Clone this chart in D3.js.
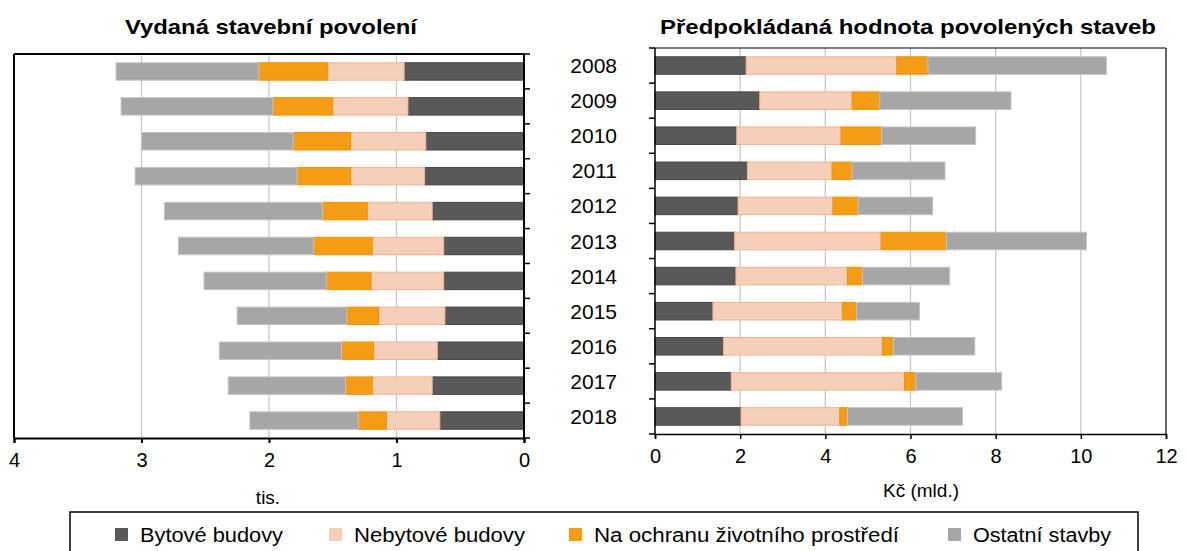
<!DOCTYPE html>
<html><head><meta charset="utf-8">
<script src="https://cdn.jsdelivr.net/npm/d3@7"></script>
<style>
html,body{margin:0;padding:0;background:#fff;}
text{font-family:"Liberation Sans",Arial,sans-serif;fill:#000;}
</style></head>
<body><svg id="c" width="1186" height="551"></svg>
<script>
const years = ["2008","2009","2010","2011","2012","2013","2014","2015","2016","2017","2018"];
const seriesNames = ["Bytové budovy","Nebytové budovy","Na ochranu životního prostředí","Ostatní stavby"];
// Vydaná stavební povolení (tis.)
const permitsBytove   = [0.94,0.91,0.77,0.78,0.72,0.63,0.63,0.62,0.68,0.72,0.66];
const permitsNebytove = [0.60,0.59,0.59,0.58,0.51,0.56,0.57,0.52,0.50,0.47,0.42];
const permitsOchrana  = [0.54,0.47,0.45,0.42,0.35,0.46,0.35,0.25,0.25,0.21,0.22];
const permitsOstatni  = [1.12,1.19,1.19,1.27,1.24,1.06,0.96,0.86,0.96,0.92,0.85];
// Předpokládaná hodnota povolených staveb (mld. Kč)
const valueBytove   = [2.14,2.46,1.92,2.17,1.95,1.87,1.90,1.36,1.61,1.79,2.02];
const valueNebytove = [3.54,2.17,2.45,1.99,2.23,3.44,2.62,3.04,3.73,4.07,2.32];
const valueOchrana  = [0.73,0.65,0.95,0.47,0.59,1.53,0.35,0.33,0.26,0.26,0.18];
const valueOstatni  = [4.19,3.08,2.21,2.18,1.75,3.29,2.05,1.48,1.91,2.02,2.70];
const leftTicks = [0,1,2,3,4];
const rightTicks = [0,2,4,6,8,10,12];

const fills   = ["#595959","#f5cfb8","#f59c17","#a6a6a6"];
const strokes = ["#454545","#f0b493","#f39200","#c4c4c4"];

const svg = d3.select("#c");
const keys = ["a","b","c","d"];
function rows(arrs){ return years.map((y,i)=>({year:y,a:arrs[0][i],b:arrs[1][i],c:arrs[2][i],d:arrs[3][i]})); }
const stack = d3.stack().keys(keys);

function drawChart(cfg){
  const g = svg.append("g");
  const x = d3.scaleLinear().domain(cfg.domain).range(cfg.xr);
  const y = d3.scaleBand().domain(years).range([cfg.top,cfg.bottom]).paddingInner(0.5).paddingOuter(0.25);
  // gridlines
  g.append("g").selectAll("line").data(cfg.ticks.filter(t=>t!==0 && t!==cfg.frameVal)).join("line")
    .attr("x1",d=>x(d)).attr("x2",d=>x(d)).attr("y1",cfg.top).attr("y2",cfg.bottom)
    .attr("stroke","#c8c8c8").attr("stroke-width",1.3);
  // bars
  const st = stack(rows(cfg.data));
  st.forEach((layer,li)=>{
    g.append("g").selectAll("rect").data(layer).join("rect")
      .attr("x",d=>Math.min(x(d[0]),x(d[1])))
      .attr("width",d=>Math.abs(x(d[1])-x(d[0])))
      .attr("y",d=>y(d.data.year)).attr("height",y.bandwidth())
      .attr("fill",fills[li]).attr("stroke",strokes[li]).attr("stroke-width",1);
  });
  // frame top and far side
  g.append("line").attr("x1",cfg.xr[0]).attr("x2",cfg.xr[1]).attr("y1",cfg.top).attr("y2",cfg.top)
    .attr("stroke","#000").attr("stroke-width",cfg.frameW);
  g.append("line").attr("x1",x(cfg.frameVal)).attr("x2",x(cfg.frameVal)).attr("y1",cfg.top).attr("y2",cfg.bottom)
    .attr("stroke","#000").attr("stroke-width",cfg.frameW);
  // bottom axis
  const xa = g.append("g").attr("transform",`translate(0,${cfg.bottom})`)
    .call(d3.axisBottom(x).tickValues(cfg.ticks).tickSize(5).tickPadding(10).tickFormat(d3.format("d")));
  xa.select(".domain").attr("stroke","#000").attr("stroke-width",cfg.axisW);
  xa.selectAll(".tick line").attr("stroke","#000").attr("stroke-width",cfg.axisW);
  xa.selectAll("text").attr("font-size","20px").attr("font-family","Liberation Sans, Arial, sans-serif").attr("fill","#000");
  // category axis line with boundary ticks
  const ax0 = x(0);
  g.append("line").attr("x1",ax0).attr("x2",ax0).attr("y1",cfg.top).attr("y2",cfg.bottom)
    .attr("stroke","#000").attr("stroke-width",cfg.axisW);
  const bounds = d3.range(years.length+1).map(i=>cfg.top+(cfg.bottom-cfg.top)*i/years.length);
  g.append("g").selectAll("line").data(bounds).join("line")
    .attr("x1",ax0).attr("x2",ax0+cfg.tickDir*6).attr("y1",d=>d).attr("y2",d=>d)
    .attr("stroke","#000").attr("stroke-width",1.5);
  if(cfg.labels){
    g.append("g").selectAll("text").data(years).join("text")
      .attr("x",cfg.labelX).attr("y",d=>y(d)+y.bandwidth()/2).attr("dy","0.36em")
      .attr("text-anchor","end").attr("font-size","21px").text(d=>d);
  }
  // title & axis title
  g.append("text").attr("x",cfg.titleX).attr("y",34).attr("text-anchor","middle")
    .attr("font-size","21px").attr("font-weight","bold")
    .attr("textLength",cfg.titleW).attr("lengthAdjust","spacingAndGlyphs").text(cfg.title);
  g.append("text").attr("x",cfg.axisTitleX).attr("y",cfg.axisTitleY).attr("text-anchor","middle")
    .attr("font-size","19px").text(cfg.axisTitle);
}

drawChart({data:[permitsBytove,permitsNebytove,permitsOchrana,permitsOstatni],
  domain:[4,0], xr:[14,524], top:54, bottom:438, ticks:leftTicks, frameVal:4, frameW:2, axisW:2,
  tickDir:1, labels:false, title:"Vydaná stavební povolení", titleX:271, titleW:292,
  axisTitle:"tis.", axisTitleX:268, axisTitleY:504});
drawChart({data:[valueBytove,valueNebytove,valueOchrana,valueOstatni],
  domain:[0,12], xr:[655,1166], top:48, bottom:434, ticks:rightTicks, frameVal:12, frameW:1.2, axisW:1.5,
  tickDir:-1, labels:true, labelX:617, title:"Předpokládaná hodnota povolených staveb", titleX:908, titleW:496,
  axisTitle:"Kč (mld.)", axisTitleX:921, axisTitleY:497});

// legend
const lg = svg.append("g");
lg.append("rect").attr("x",70).attr("y",512).attr("width",1068).attr("height",45)
  .attr("fill","none").attr("stroke","#000").attr("stroke-width",1.5);
const legX = [115,329,569,948];
const legW = [143,171,305,138];
seriesNames.forEach((n,i)=>{
  lg.append("rect").attr("x",legX[i]).attr("y",528).attr("width",13).attr("height",13).attr("fill",fills[i]);
  lg.append("text").attr("x",legX[i]+25).attr("y",535).attr("dy","0.36em").attr("font-size","20px")
    .attr("textLength",legW[i]).attr("lengthAdjust","spacingAndGlyphs").text(n);
});
</script></body></html>
